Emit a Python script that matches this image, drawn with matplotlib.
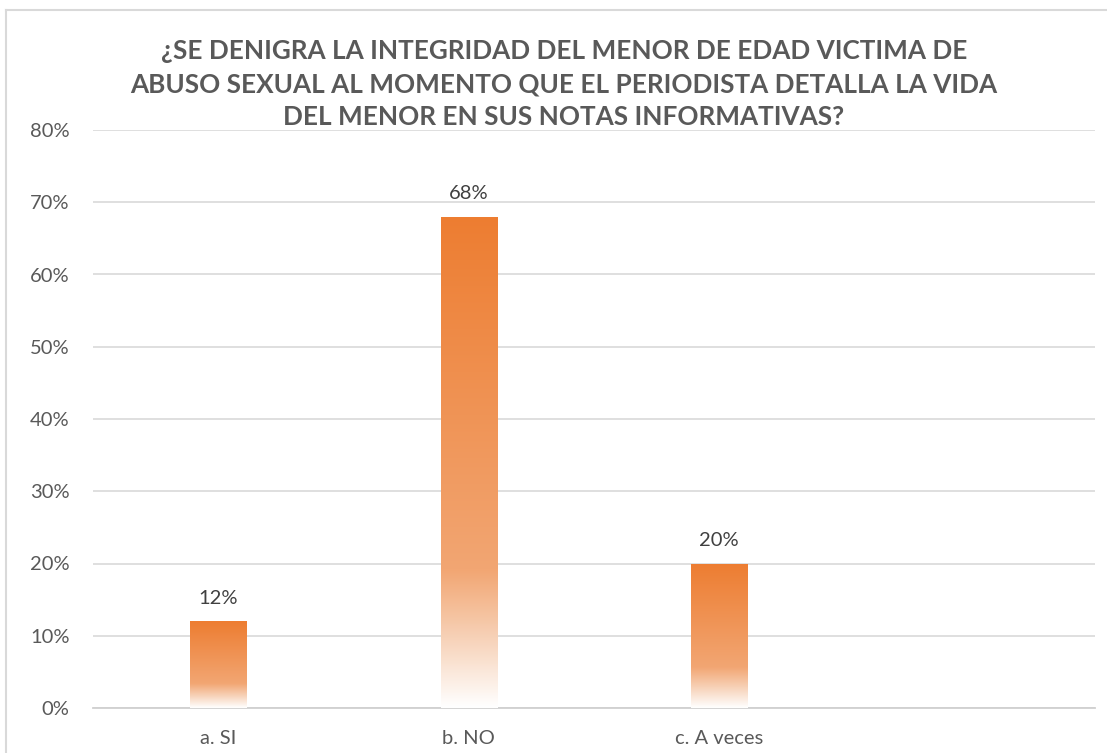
import numpy as np
import matplotlib.pyplot as plt
from matplotlib.colors import LinearSegmentedColormap
from matplotlib.lines import Line2D

categories = ['a. SI', 'b. NO', 'c. A veces']
values = [12, 68, 20]
labels = ['12%', '68%', '20%']
yticks = [0, 10, 20, 30, 40, 50, 60, 70, 80]

title = ('¿SE DENIGRA LA INTEGRIDAD DEL MENOR DE EDAD VICTIMA DE\n'
         'ABUSO SEXUAL AL MOMENTO QUE EL PERIODISTA DETALLA LA VIDA\n'
         'DEL MENOR EN SUS NOTAS INFORMATIVAS?')

plt.rcParams['font.family'] = ['Lato', 'DejaVu Sans']

fig = plt.figure(figsize=(11.07, 7.53), dpi=100)
ax = fig.add_axes([93 / 1107, 1 - 708 / 753, (1095 - 93) / 1107, (708 - 130) / 753])

x = np.arange(len(categories))
bars = ax.bar(x, values, width=0.225, color='none', zorder=3)

# gradient: orange on top, fading to white at the bottom
cmap = LinearSegmentedColormap.from_list('fade', [
    (0.0, '#ED7D31'), (0.72, '#F2A673'), (0.86, '#F7D2B8'), (1.0, '#FFFFFF')])
grad = np.linspace(0, 1, 256).reshape(-1, 1)
for b in bars:
    x0, w, h = b.get_x(), b.get_width(), b.get_height()
    im = ax.imshow(grad, cmap=cmap, aspect='auto', extent=(x0, x0 + w, 0, h),
                   origin='upper', zorder=3, interpolation='bicubic')
    im.set_clip_path(b)

for b, lab in zip(bars, labels):
    ax.text(b.get_x() + b.get_width() / 2, b.get_height() + 2.0, lab,
            ha='center', va='bottom', fontsize=14.5, color='#404040')

ax.set_xlim(-0.5, 3.5)
ax.set_ylim(0, 80)
ax.set_yticks(yticks)
ax.set_yticklabels([f'{t}%' for t in yticks])
ax.set_xticks(x)
ax.set_xticklabels(categories)
ax.tick_params(axis='both', length=0, labelsize=14.5, labelcolor='#595959')
ax.tick_params(axis='y', pad=17)
ax.tick_params(axis='x', pad=16)
ax.grid(axis='y', color='#D9D9D9', linewidth=1.2, zorder=0)
ax.set_axisbelow(True)
for s in ['top', 'right', 'left']:
    ax.spines[s].set_visible(False)
ax.spines['bottom'].set_color('#D0D0D0')
ax.spines['bottom'].set_linewidth(1.3)

fig.text(564 / 1107, 1 - 84 / 753, title, ha='center', va='center',
         fontsize=18.8, fontweight='bold', color='#595959', linespacing=1.45)

# chart frame (only left and top edges visible)
fig.add_artist(Line2D([6 / 1107, 6 / 1107], [0, 1 - 10 / 753], color='#D9D9D9', lw=1.5))
fig.add_artist(Line2D([6 / 1107, 1], [1 - 10 / 753, 1 - 10 / 753], color='#D9D9D9', lw=1.5))

fig.savefig('out.png', dpi=100, facecolor='white')
